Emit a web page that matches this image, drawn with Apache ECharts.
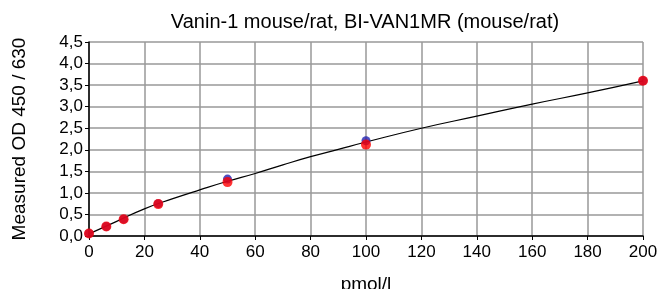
<!DOCTYPE html>
<html>
<head>
<meta charset="utf-8">
<script src="https://cdn.jsdelivr.net/npm/echarts@6/dist/echarts.min.js"></script>
<style>
  html, body { margin: 0; padding: 0; background: #fff; }
  #chart { width: 659px; height: 289px; }
</style>
</head>
<body>
<div id="chart"></div>
<script>
// standards (pmol/l) and measured OD, two replicates
var concX = [0, 6.25, 12.5, 25, 50, 100, 200];
var odRep1 = [0.06, 0.22, 0.39, 0.75, 1.32, 2.21, 3.60];
var odRep2 = [0.06, 0.22, 0.39, 0.74, 1.25, 2.12, 3.60];
// fitted curve
var fitX = [0, 10, 20, 30, 40, 50, 60, 70, 80, 90, 100, 120, 140, 160, 180, 200];
var fitY = [0.05, 0.34, 0.63, 0.86, 1.07, 1.27, 1.45, 1.65, 1.84, 2.01, 2.18, 2.50, 2.78, 3.06, 3.32, 3.60];

function pairs(xs, ys) {
  return xs.map(function (x, i) { return [x, ys[i]]; });
}

var chart = echarts.init(document.getElementById('chart'));
var font = 'Liberation Sans, Arial, sans-serif';
chart.setOption({
  animation: false,
  backgroundColor: '#fff',
  title: {
    text: 'Vanin-1 mouse/rat, BI-VAN1MR (mouse/rat)',
    left: 360, top: 7, textAlign: 'center',
    textStyle: { fontFamily: font, fontSize: 20, fontWeight: 'normal', color: '#000' }
  },
  grid: { left: 89, right: 16, top: 42, bottom: 53, containLabel: false, outerBoundsMode: 'none' },
  xAxis: {
    type: 'value', min: 0, max: 200, interval: 20,
    name: 'pmol/l', nameLocation: 'middle', nameGap: 39,
    nameTextStyle: { fontFamily: font, fontSize: 19, color: '#000' },
    axisLine: { lineStyle: { color: '#000', width: 1.5 } },
    axisTick: { show: true, length: 4, lineStyle: { color: '#000' } },
    axisLabel: { fontFamily: font, fontSize: 17, color: '#000', margin: 8 },
    splitLine: { lineStyle: { color: '#999', width: 1.5 } }
  },
  yAxis: {
    type: 'value', min: 0, max: 4.5, interval: 0.5,
    name: 'Measured OD 450 / 630', nameLocation: 'middle', nameGap: 60,
    nameTextStyle: { fontFamily: font, fontSize: 19, color: '#000' },
    axisLine: { show: true, lineStyle: { color: '#000', width: 1.5 } },
    axisTick: { show: true, length: 4, lineStyle: { color: '#000' } },
    axisLabel: {
      fontFamily: font, fontSize: 17, color: '#000', margin: 6,
      formatter: function (v) { return v.toFixed(1).replace('.', ','); }
    },
    splitLine: { lineStyle: { color: '#999', width: 1.5 } }
  },
  series: [
    {
      type: 'line', data: pairs(fitX, fitY), smooth: true, symbol: 'none',
      lineStyle: { color: '#000', width: 1.2 }, z: 2
    },
    {
      type: 'scatter', data: pairs(concX, odRep1), symbolSize: 9,
      itemStyle: { color: '#2020b0' }, z: 3
    },
    {
      type: 'scatter', data: pairs(concX, odRep2), symbolSize: 10,
      itemStyle: { color: '#ff0000' }, z: 4
    }
  ]
});
</script>
</body>
</html>
